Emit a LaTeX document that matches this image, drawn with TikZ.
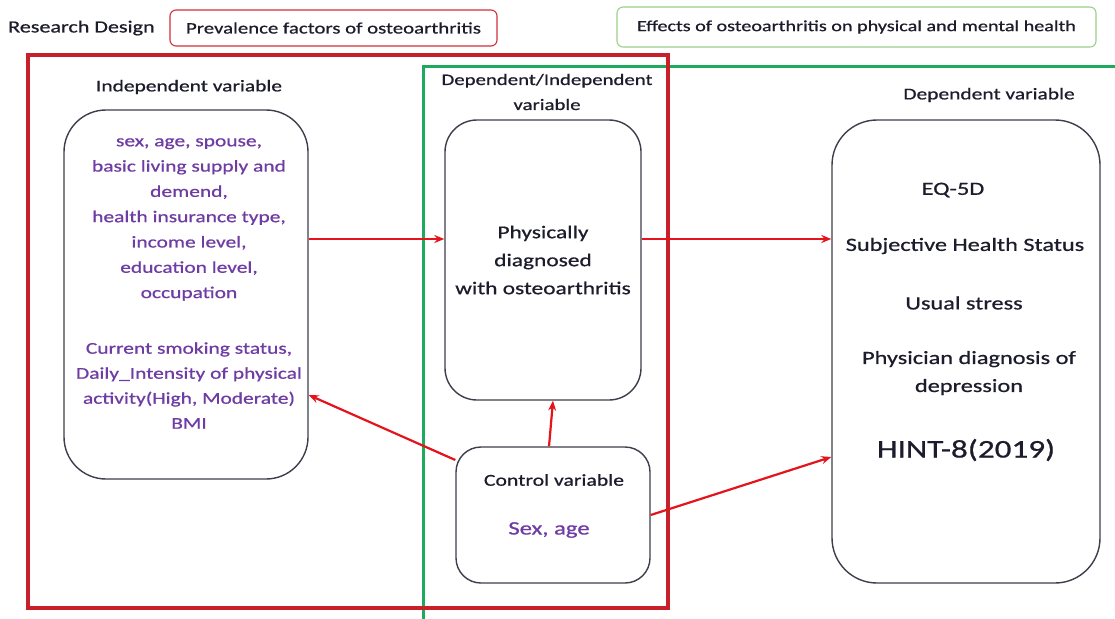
\documentclass[tikz,border=0pt]{standalone}
\usepackage{fontspec}
\setmainfont{Carlito}[FakeStretch=1.3,FakeBold=0.7]
\usetikzlibrary{arrows.meta}
\definecolor{frred}{HTML}{C8202A}
\definecolor{arred}{HTML}{E5131B}
\definecolor{frgreen}{HTML}{1DAA5C}
\definecolor{hdgreen}{HTML}{9CCF8C}
\definecolor{hdred}{HTML}{D0303A}
\definecolor{purp}{HTML}{6E3CA3}
\definecolor{ink}{HTML}{1C1C2C}
\newcommand{\fs}[2]{\fontsize{#1}{#2}\selectfont}
\tikzset{
  varbox/.style={draw=ink!85, line width=1.4pt, fill=white, inner sep=0pt},
  hdbox/.style={rounded corners=6pt, line width=1.1pt, inner sep=0pt, text=ink},
  arr/.style={draw=arred, line width=2.2pt, -{Stealth[length=10pt,width=8pt]}},
  txt/.style={text=ink, align=center, inner sep=0pt},
  ptxt/.style={text=purp, align=center, inner sep=0pt},
}
\begin{document}
\begin{tikzpicture}[x=1pt,y=-1pt]
\path[use as bounding box] (0,0) rectangle (1115,618);
\fill[white] (0,0) rectangle (1115,618);
% header
\node[txt, anchor=west, font=\fs{17}{20}] (rd) at (8,28) {Research Design};
\node[hdbox, draw=hdred, minimum width=327pt, minimum height=36pt, font=\fs{16}{20}] (hp) at (333.5,28)
  {Prevalence factors of osteoarthritis};
\node[hdbox, draw=hdgreen, minimum width=479pt, minimum height=40pt, font=\fs{15.5}{20}] (he) at (856.5,27)
  {Effects of osteoarthritis on physical and mental health};
% frames
\draw[frgreen, line width=3pt] (423,619) -- (423,66) -- (1120,66);
\draw[frred, line width=3.2pt] (28,55) rectangle (668,608);
% headings
\node[txt, font=\fs{16.5}{20}] (hiv) at (189,87) {Independent variable};
\node[txt, font=\fs{16}{25}] (hdi) at (547,92) {Dependent/Independent\\variable};
\node[txt, font=\fs{16.5}{20}] (hdv) at (989,95) {Dependent variable};
% boxes
\node[varbox, rounded corners=42pt, minimum width=244pt, minimum height=369pt] (lb) at (186,294.5) {};
\node[varbox, rounded corners=32pt, minimum width=196pt, minimum height=280pt] (mb) at (543,260) {};
\node[varbox, rounded corners=25pt, minimum width=194pt, minimum height=136pt] (cb) at (553,515) {};
\node[varbox, rounded corners=45pt, minimum width=268pt, minimum height=463pt] (rb) at (966,351.5) {};
% left box text
\node[ptxt, font=\fs{16.5}{25.3}] (l1) at (189,219.5) {sex, age, spouse,\\basic living supply and\\demend,\\health insurance type,\\income level,\\education level,\\occupation};
\node[ptxt, font=\fs{16.5}{25}] (l2) at (189,385.5) {Current smoking status,\\Daily\_Intensity of physical\\activity(High, Moderate)\\BMI};
% middle text
\node[txt, font=\fs{18}{28}] (m1) at (543,260) {Physically\\diagnosed\\with osteoarthritis};
% control text
\node[txt, font=\fs{16.7}{20}] (c1) at (554,480) {Control variable};
\node[ptxt, font=\fs{19}{20}] (c2) at (549,530) {Sex, age};
% right text
\node[txt, font=\fs{18.7}{20}] (r1) at (953,190) {EQ-5D};
\node[txt, font=\fs{18.7}{20}] (r2) at (965,246) {Subjective Health Status};
\node[txt, font=\fs{18.7}{20}] (r3) at (964,303) {Usual stress};
\node[txt, font=\fs{18.7}{28}] (r4) at (969,373) {Physician diagnosis of\\depression};
\node[txt, font=\fs{25.5}{30}] (r5) at (966,450) {HINT-8(2019)};
% arrows
\draw[arr] ([yshift=55.5pt]lb.east) -- ([yshift=21pt]mb.west);
\draw[arr] ([yshift=21pt]mb.east) -- ([yshift=112.5pt]rb.west);
\draw[arr] ([xshift=-4pt]cb.north) -- ([xshift=10pt]mb.south);
\draw[arr] ([yshift=55pt]cb.west) -- ([yshift=-100.5pt]lb.east);
\draw[arr] (cb.east) -- ([yshift=-105.5pt]rb.west);
\end{tikzpicture}
\end{document}
